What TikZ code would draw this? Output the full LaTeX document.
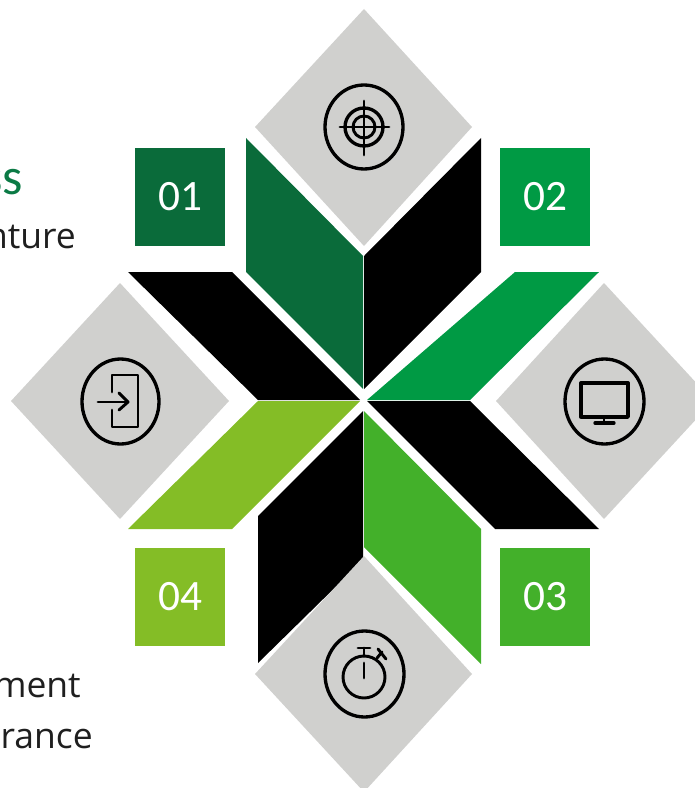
\documentclass[tikz,border=0pt]{standalone}
\usepackage{fontspec}
\setmainfont{Carlito}
\newfontfamily\sidefont{Open Sans}
\newcommand{\numtext}[1]{\raisebox{-10.4pt}[0pt][0pt]{#1}}
\definecolor{gA}{HTML}{0A6B3A}
\definecolor{gB}{HTML}{009A44}
\definecolor{gC}{HTML}{43B02A}
\definecolor{gD}{HTML}{84BD26}
\definecolor{grayD}{HTML}{D0D0CE}
\definecolor{titleG}{HTML}{0B7A45}
\tikzset{
  x=0.75pt,y=-0.75pt,
  numbox/.style={minimum width=67.5pt,minimum height=73.5pt,inner sep=0pt,text=white,font=\fontsize{32.5pt}{34pt}\selectfont},
  side/.style={anchor=base east,inner sep=0pt,font=\sidefont\fontsize{26.6pt}{30pt}\selectfont,text=black!88},
  ico/.style={draw=black,line width=2.5pt,line cap=round,line join=round},
  icofine/.style={draw=black,line width=2.2pt,line cap=round,line join=round},
}
\begin{document}
\begin{tikzpicture}
\useasboundingbox (0,0) rectangle (695,788);
\begin{scope}
\clip (0,0) rectangle (695,788);
% diamonds
\fill[grayD] (364,9) -- (472,127) -- (364,246) -- (255,127) -- cycle;
\fill[grayD] (120,283) -- (229,401) -- (120,519) -- (11,401) -- cycle;
\fill[grayD] (604,283) -- (713,401) -- (604,519) -- (496,401) -- cycle;
% blades
\fill[gA] (246,138) -- (363,256) -- (363,389) -- (246,272) -- cycle;
\fill[black] (481,138) -- (364,256) -- (364,389) -- (481,272) -- cycle;
\fill[gB] (515,272) -- (599,272) -- (470,400) -- (367,400) -- cycle;
\fill[black] (367,401) -- (470,401) -- (599,529) -- (495,529) -- cycle;
\fill[gC] (364,411) -- (481,529) -- (481,664) -- (364,547) -- cycle;
\fill[black] (363,411) -- (363,560) -- (258,663) -- (258,516) -- cycle;
\fill[gD] (360,401) -- (258,401) -- (128,529) -- (232,529) -- cycle;
\fill[black] (128,272) -- (232,272) -- (360,400) -- (258,400) -- cycle;
\fill[grayD] (364,556) -- (472,674) -- (364,792) -- (255,674) -- cycle;
% number boxes
\node[numbox,fill=gA] (n1) at (180,197) {\numtext{01}};
\node[numbox,fill=gB] (n2) at (545,197) {\numtext{02}};
\node[numbox,fill=gC] (n3) at (545,597) {\numtext{03}};
\node[numbox,fill=gD] (n4) at (180,597) {\numtext{04}};
% clipped side text
\node[side,text=titleG,font=\fontsize{39pt}{42pt}\selectfont] (t1) at (23,195) {ss};
\node[side] (t2) at (76,248) {nture};
\node[side] (t3) at (81,697) {ment};
\node[side] (t4) at (93,748) {rance};
% target icon
\draw[ico] (364,127) ellipse (39 and 42);
\draw[ico] (364,127) circle (19);
\draw[icofine] (364,127) circle (11);
\draw[icofine] (340,127) -- (389,127);
\draw[icofine] (364,101) -- (364,155);
% login icon
\draw[ico] (120.5,401.5) ellipse (38.5 and 42.5);
\draw[icofine] (112,392) -- (112,375) -- (138,375) -- (138,427) -- (112,427) -- (112,410);
\draw[icofine] (98,402) -- (128,402);
\draw[icofine] (119,393) -- (128,402) -- (119,410);
% monitor icon
\draw[ico] (604.5,401.5) ellipse (39.5 and 42.5);
\draw[ico] (581,383) rectangle (628,417);
\draw[icofine] (604,417) -- (604,423);
\draw[ico] (595,423) -- (614,423);
% stopwatch icon
\draw[ico] (364.5,674) ellipse (39.5 and 43);
\draw[icofine] (364,677) circle (21);
\draw[icofine] (364,663) -- (364,678);
\draw[icofine] (364,648) -- (364,656);
\draw[icofine] (358,648) -- (370,648);
\draw[icofine] (377,658) -- (382,652);
\draw[icofine] (378,649) -- (386,659);
\end{scope}
\end{tikzpicture}
\end{document}
